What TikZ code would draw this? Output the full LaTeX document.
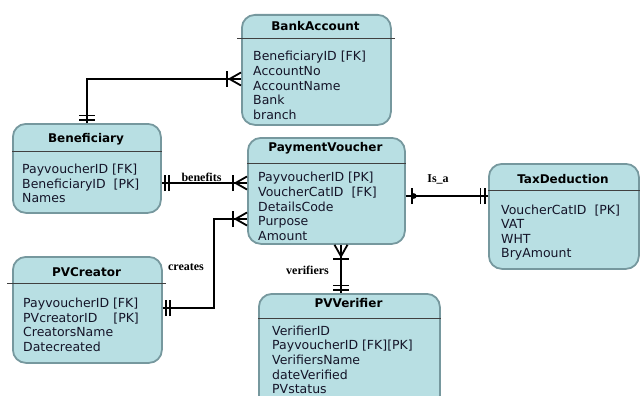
\documentclass[tikz,border=0pt]{standalone}
\usepackage{fontspec}
\setmainfont{DejaVu Sans}
\newfontfamily\relfont{Liberation Serif}
\usetikzlibrary{decorations.markings}
\definecolor{entfill}{RGB}{184,223,227}
\definecolor{entline}{RGB}{118,152,158}
\definecolor{attrtext}{RGB}{20,20,40}
\tikzset{
  barmark/.style={postaction={decorate,decoration={markings,
      mark=at position #1 with {\draw[line width=1.8pt] (0,-8pt) -- (0,8pt);}}}},
  one start/.style={barmark=3pt, barmark=7.5pt},
  one end/.style={barmark=-3pt, barmark=-7.5pt},
  many start/.style={barmark=14pt, postaction={decorate,decoration={markings,
      mark=at position 11.5pt with {\draw[line width=1.8pt] (-11.5pt,6.5pt) -- (0,0) -- (-11.5pt,-6.5pt);}}}},
  many end/.style={barmark=-14pt, postaction={decorate,decoration={markings,
      mark=at position -11.5pt with {\draw[line width=1.8pt] (11.5pt,6.5pt) -- (0,0) -- (11.5pt,-6.5pt);}}}},
  dot start/.style={barmark=6pt, postaction={decorate,decoration={markings,
      mark=at position 8pt with {\fill (0,0) circle (2.8pt);}}}}
}
\begin{document}
\begin{tikzpicture}[x=1pt, y=-1pt,
    entity/.style={draw=entline, line width=1.8pt, fill=entfill, rounded corners=13pt, anchor=north west, inner sep=0pt},
    title/.style={anchor=base, font=\bfseries\fontsize{12}{14}\selectfont},
    attrs/.style={anchor=north west, align=left, inner sep=0pt, text=attrtext, font=\fontsize{12.5}{14.6}\selectfont},
    header/.style={draw=black!75, line width=1pt},
    conn/.style={draw, line width=1.8pt},
    rel/.style={anchor=base, font=\relfont\bfseries\fontsize{12}{14}\selectfont}]
  \clip (0,0) rectangle (640,396);

  \node[entity, minimum width=149pt, minimum height=110pt] (bank) at (241,14) {};
  \draw[header] ([xshift=-4pt]bank.west |- 0,39) -- ([xshift=3pt]bank.east |- 0,39);
  \node[title] (banktitle) at (315.5,30.5) {BankAccount};
  \node[attrs] (bankattrs) at (253,51.2) {BeneficiaryID [FK]\\AccountNo\\AccountName\\Bank\\branch};

  \node[entity, minimum width=148pt, minimum height=89pt] (ben) at (12,123) {};
  \draw[header] (ben.west |- 0,151) -- (ben.east |- 0,151);
  \node[title] (bentitle) at (86,142.5) {Beneficiary};
  \node[attrs] (benattrs) at (22,163.8) {PayvoucherID [FK]\\BeneficiaryID\ \ [PK]\\Names};

  \node[entity, minimum width=157pt, minimum height=106pt] (pv) at (247,137) {};
  \draw[header] (pv.west |- 0,163) -- (pv.east |- 0,163);
  \node[title] (pvtitle) at (325.5,151.5) {PaymentVoucher};
  \node[attrs] (pvattrs) at (258,172.2) {PayvoucherID [PK]\\VoucherCatID\ \ [FK]\\DetailsCode\\Purpose\\Amount};

  \node[entity, minimum width=150pt, minimum height=105pt] (tax) at (488,163) {};
  \draw[header] (tax.west |- 0,190) -- ([xshift=3pt]tax.east |- 0,190);
  \node[title] (taxtitle) at (563,183) {TaxDeduction};
  \node[attrs] (taxattrs) at (501,204.5) {VoucherCatID\ \ [PK]\\VAT\\WHT\\BryAmount};

  \node[entity, minimum width=149pt, minimum height=106pt] (creator) at (12,256) {};
  \draw[header] ([xshift=-5pt]creator.west |- 0,283) -- ([xshift=3pt]creator.east |- 0,283);
  \node[title] (creatortitle) at (86.5,276) {PVCreator};
  \node[attrs] (creatorattrs) at (23,297.8) {PayvoucherID [FK]\\PVcreatorID\hspace{16pt}[PK]\\CreatorsName\\Datecreated};

  \node[entity, minimum width=181pt, minimum height=115pt] (ver) at (258,293) {};
  \draw[header] (ver.west |- 0,318) -- (ver.east |- 0,318);
  \node[title] (vertitle) at (348.5,307.5) {PVVerifier};
  \node[attrs] (verattrs) at (272,325.5) {VerifierID\\PayvoucherID [FK][PK]\\VerifiersName\\dateVerified\\PVstatus};

  \draw[conn, one start, many end] (ben.north) |- (bank.west |- 0,79);
  \draw[conn, one start, many end] (ben.east |- 0,183) -- (pv.west |- 0,183);
  \draw[conn, one start, many end] (creator.east |- 0,308) -| (214,219) -- (pv.west |- 0,219);
  \draw[conn, many start, one end] (pv.south -| 341,0) -- (ver.north -| 341,0);
  \draw[conn, dot start, one end] (pv.east |- 0,196) -- (tax.west |- 0,196);

  \node[rel] (benefits) at (201.5,181) {benefits};
  \node[rel] (creates) at (186,270) {creates};
  \node[rel] (verifiers) at (307.5,274) {verifiers};
  \node[rel] (isa) at (438,182.5) {Is\_a};
\end{tikzpicture}
\end{document}
